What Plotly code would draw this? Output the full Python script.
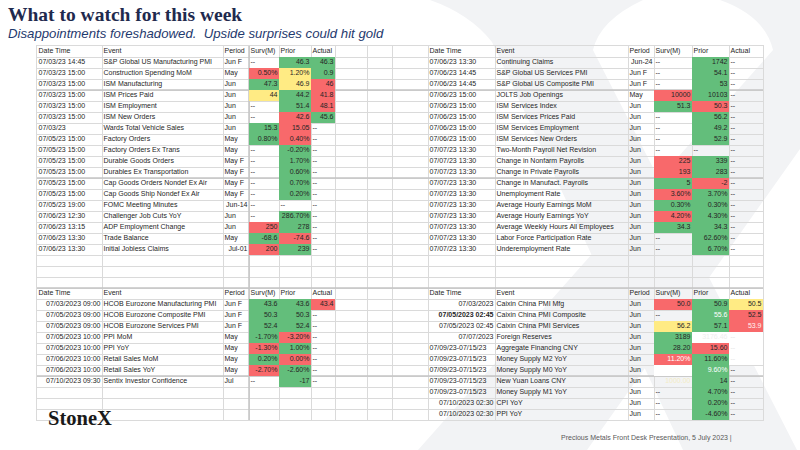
import re

import plotly.graph_objects as go

# ---------------------------------------------------------------- data
HEADERS = ["Date Time", "Event", "Period", "Surv(M)", "Prior", "Actual"]

# US calendar, first half of the week
tl_date = ["07/03/23 14:45"] + ["07/03/23 15:00"] * 5 + ["07/03/23"] + ["07/05/23 15:00"] * 6 + [
    "07/05/23 19:00", "07/06/23 12:30", "07/06/23 13:15", "07/06/23 13:30", "07/06/23 13:30"]
tl_event = ["S&P Global US Manufacturing PMI", "Construction Spending MoM", "ISM Manufacturing",
            "ISM Prices Paid", "ISM Employment", "ISM New Orders", "Wards Total Vehicle Sales",
            "Factory Orders", "Factory Orders Ex Trans", "Durable Goods Orders",
            "Durables Ex Transportation", "Cap Goods Orders Nondef Ex Air",
            "Cap Goods Ship Nondef Ex Air", "FOMC Meeting Minutes", "Challenger Job Cuts YoY",
            "ADP Employment Change", "Trade Balance", "Initial Jobless Claims"]
tl_period = ["Jun F", "May", "Jun", "Jun", "Jun", "Jun", "Jun", "May", "May", "May F", "May F",
             "May F", "May F", "Jun-14", "Jun", "Jun", "May", "Jul-01"]
tl_surv = ["--", "0.50%", "47.3", "44", "--", "--", "15.3", "0.80%", "--", "--", "--", "--", "--",
           "--", "--", "250", "-68.6", "200"]
tl_prior = ["46.3", "1.20%", "46.9", "44.2", "51.4", "42.6", "15.05", "0.40%", "-0.20%", "1.70%",
            "0.60%", "0.70%", "0.20%", "--", "286.70%", "278", "-74.6", "239"]
tl_actual = ["46.3", "0.9", "46", "41.8", "48.1", "45.6"] + ["--"] * 12
tl_surv_fill = ["", "r", "g", "y", "", "", "g", "g", "", "", "", "", "", "", "", "r", "g", "r"]
tl_prior_fill = ["g", "y", "y", "g", "g", "r", "r", "r", "g", "g", "g", "g", "g", "", "g", "g", "r", "g"]
tl_actual_fill = ["g", "g", "r", "r", "r", "g"] + [""] * 12

# US calendar, second half of the week
tr_date = ["07/06/23 13:30", "07/06/23 14:45", "07/06/23 14:45"] + ["07/06/23 15:00"] * 5 + [
    "07/07/23 13:30"] * 10
tr_event = ["Continuing Claims", "S&P Global US Services PMI", "S&P Global US Composite PMI",
            "JOLTS Job Openings", "ISM Services Index", "ISM Services Prices Paid",
            "ISM Services Employment", "ISM Services New Orders", "Two-Month Payroll Net Revision",
            "Change in Nonfarm Payrolls", "Change in Private Payrolls",
            "Change in Manufact. Payrolls", "Unemployment Rate", "Average Hourly Earnings MoM",
            "Average Hourly Earnings YoY", "Average Weekly Hours All Employees",
            "Labor Force Participation Rate", "Underemployment Rate"]
tr_period = ["Jun-24", "Jun F", "Jun F", "May"] + ["Jun"] * 14
tr_surv = ["--", "--", "--", "10000", "51.3", "--", "--", "--", "--", "225", "193", "5", "3.60%",
           "0.30%", "4.20%", "34.3", "--", "--"]
tr_prior = ["1742", "54.1", "53", "10103", "50.3", "56.2", "49.2", "52.9", "--", "339", "283", "-2",
            "3.70%", "0.30%", "4.30%", "34.3", "62.60%", "6.70%"]
tr_actual = ["--"] * 18
tr_surv_fill = ["", "", "", "r", "g", "", "", "", "", "r", "r", "g", "r", "g", "r", "g", "", ""]
tr_prior_fill = ["g", "g", "g", "g", "r", "g", "g", "g", "", "g", "g", "r", "g", "g", "g", "g", "g", "g"]
tr_actual_fill = [""] * 18

# Eurozone
bl_date = ["07/03/2023 09:00", "07/05/2023 09:00", "07/05/2023 09:00", "07/05/2023 10:00",
           "07/05/2023 10:00", "07/06/2023 10:00", "07/06/2023 10:00", "07/10/2023 09:30"]
bl_event = ["HCOB Eurozone Manufacturing PMI", "HCOB Eurozone Composite PMI",
            "HCOB Eurozone Services PMI", "PPI MoM", "PPI YoY", "Retail Sales MoM",
            "Retail Sales YoY", "Sentix Investor Confidence"]
bl_period = ["Jun F", "Jun F", "Jun F", "May", "May", "May", "May", "Jul"]
bl_surv = ["43.6", "50.3", "52.4", "-1.70%", "-1.30%", "0.20%", "-2.70%", "--"]
bl_prior = ["43.6", "50.3", "52.4", "-3.20%", "1.00%", "0.00%", "-2.60%", "-17"]
bl_actual = ["43.4"] + ["--"] * 7
bl_surv_fill = ["g", "g", "g", "g", "r", "g", "r", ""]
bl_prior_fill = ["g", "g", "g", "r", "g", "r", "g", "g"]
bl_actual_fill = ["r"] + [""] * 7

# China
br_date = ["07/03/2023", "<b>07/05/2023 02:45</b>", "07/05/2023 02:45", "07/07/2023"] + [
    "07/09/23-07/15/23"] * 5 + ["07/10/2023 02:30", "07/10/2023 02:30"]
br_event = ["Caixin China PMI Mfg", "Caixin China PMI Composite", "Caixin China PMI Services",
            "Foreign Reserves", "Aggregate Financing CNY", "Money Supply M2 YoY",
            "Money Supply M0 YoY", "New Yuan Loans CNY", "Money Supply M1 YoY", "CPI YoY", "PPI YoY"]
br_period = ["Jun"] * 11
br_surv = ["50.0", "--", "56.2", "3189", "28.20", "11.20%", "", "1000.00", "--", "--", "--"]
br_prior = ["50.9", "55.6", "57.1", "3176.46", "15.60", "11.60%", "9.60%", "14", "4.70%", "0.20%",
            "-4.60%"]
br_actual = ["50.5", "52.5", "53.9"] + ["--"] * 8
br_surv_fill = ["r", "", "y", "g", "g", "r", "w", "", "", "", ""]
br_prior_fill = ["g", "g", "g", "w", "r", "g", "g", "g", "g", "g", "g"]
br_actual_fill = ["y", "r", "r", "w", "w", "w", "", "", "", "", ""]

# ---------------------------------------------------------------- layout
COL_EDGES = [37, 102, 223, 249, 279, 311, 335, 367, 392, 428, 495, 628, 654, 692, 729, 763]
ROW_TOP, ROW_H, N_ROWS = 46, 11, 34
ROW_EDGES = [ROW_TOP + ROW_H * i for i in range(N_ROWS + 1)]
HEAVY_ROWS = [90, 178, 288, 376]
HEAVY_COLS = [249]

GRID = "#dadada"
TEXT = "#262626"
FILLS = {"w": (0, "#ffffff"), "g": (1, "#63be7b"), "r": (2, "#f8696b"), "y": (3, "#ffeb84")}
FONT = "Liberation Sans"
PAD = 1.5

blocks = [
    dict(name="tl", col0=0, head=0, row0=1, date_right=False,
         cols=[tl_date, tl_event, tl_period, tl_surv, tl_prior, tl_actual],
         fills={3: tl_surv_fill, 4: tl_prior_fill, 5: tl_actual_fill}),
    dict(name="tr", col0=9, head=0, row0=1, date_right=False,
         cols=[tr_date, tr_event, tr_period, tr_surv, tr_prior, tr_actual],
         fills={3: tr_surv_fill, 4: tr_prior_fill, 5: tr_actual_fill}),
    dict(name="bl", col0=0, head=22, row0=23, date_right=True,
         cols=[bl_date, bl_event, bl_period, bl_surv, bl_prior, bl_actual],
         fills={3: bl_surv_fill, 4: bl_prior_fill, 5: bl_actual_fill}),
    dict(name="br", col0=9, head=22, row0=23, date_right=True,
         cols=[br_date, br_event, br_period, br_surv, br_prior, br_actual],
         fills={3: br_surv_fill, 4: br_prior_fill, 5: br_actual_fill}),
]

# text colours that differ from the default (block, row, column)
TEXT_OVERRIDE = {
    ("br", 1, 4): "#ffffff", ("br", 2, 5): "#fff2f2", ("br", 5, 3): "#ffffff",
    ("br", 6, 4): "#ffffff", ("br", 3, 4): "#eeeeee", ("br", 7, 3): "#f3ecc4",
    ("br", 3, 5): "#e4e4e4", ("br", 4, 5): "#e4e4e4", ("br", 5, 5): "#e4e4e4",
}


def right_aligned(text, col, block):
    plain = re.sub(r"<[^>]+>", "", text)
    if col == 0:
        return block["date_right"] and "-" not in plain
    if col == 2:
        return bool(re.match(r"^[A-Z][a-z]{2}-\d\d$", plain))
    try:
        float(plain.replace("%", ""))
        return True
    except ValueError:
        return False


z = [[None] * (len(COL_EDGES) - 1) for _ in range(N_ROWS)]
texts = {"l": ([], [], [], []), "r": ([], [], [], [])}


def put(text, row, col, side, color=TEXT):
    xs, ys, ts, cs = texts[side]
    xs.append(COL_EDGES[col] + PAD if side == "l" else COL_EDGES[col + 1] - PAD)
    ys.append(ROW_EDGES[row] + ROW_H / 2)
    ts.append(text)
    cs.append(color)


for b in blocks:
    for j, h in enumerate(HEADERS):
        put(h, b["head"], b["col0"] + j, "l")
    for j, column in enumerate(b["cols"]):
        for i, value in enumerate(column):
            row, col = b["row0"] + i, b["col0"] + j
            code = b["fills"].get(j, [""] * len(column))[i]
            if code:
                z[row][col] = FILLS[code][0]
            if value:
                side = "r" if right_aligned(value, j, b) else "l"
                put(value, row, col, side, TEXT_OVERRIDE.get((b["name"], i, j), TEXT))

order = sorted(FILLS.values())
n = len(order)
colorscale = []
for k, (_, c) in enumerate(order):
    colorscale += [[k / n, c], [(k + 1) / n, c]]

fig = go.Figure()
fig.add_trace(go.Heatmap(
    x=COL_EDGES, y=ROW_EDGES, z=z, zmin=-0.5, zmax=n - 0.5, colorscale=colorscale,
    showscale=False, hoverinfo="skip", hoverongaps=False,
))
for side, pos in (("l", "middle right"), ("r", "middle left")):
    xs, ys, ts, cs = texts[side]
    fig.add_trace(go.Scatter(
        x=xs, y=ys, text=ts, mode="text", textposition=pos,
        textfont=dict(family=FONT, size=7, color=cs), hoverinfo="skip", showlegend=False,
    ))

# heavier sheet lines (frozen pane / page breaks)
for y in HEAVY_ROWS:
    fig.add_shape(type="line", x0=COL_EDGES[0], x1=COL_EDGES[-1], y0=y, y1=y, layer="between",
                  line=dict(color="#c4c4c4", width=1.5))
for x in HEAVY_COLS:
    fig.add_shape(type="line", x0=x, x1=x, y0=ROW_EDGES[0], y1=ROW_EDGES[-1], layer="between",
                  line=dict(color="#c4c4c4", width=1.5))

# faint StoneX "X" watermark, drawn in page pixels
W, H = 800, 450
ML, MR, MT, MB = COL_EDGES[0], W - COL_EDGES[-1], ROW_EDGES[0], H - ROW_EDGES[-1]


def pp(x, y):
    return f"{(x - ML) / (W - ML - MR):.4f},{(H - MB - y) / (H - MT - MB):.4f}"


arm_a = (f"M {pp(430, 0)} L {pp(643, 0)} Q {pp(600, 20)} {pp(593, 50)} L {pp(797, 450)} "
         f"L {pp(683, 450)} L {pp(492, 42)} Q {pp(470, 14)} {pp(430, 0)} Z")
arm_b = (f"M {pp(720, 0)} L {pp(880, 0)} L {pp(870, 50)} L {pp(587, 450)} L {pp(418, 450)} "
         f"L {pp(773, 50)} Q {pp(765, 16)} {pp(720, 0)} Z")
for path in (arm_a, arm_b):
    fig.add_shape(type="path", path=path, xref="paper", yref="paper", layer="below",
                  fillcolor="#f2f3f5", line=dict(width=0))


def ax(px_x, px_y):
    return (px_x - ML) / (W - ML - MR), (H - MB - px_y) / (H - MT - MB)


notes = [
    ("<b>What to watch for this week</b>", 6, 15, "left",
     dict(family="Liberation Serif", size=19.5, color="#1f2a4e")),
    ("<i>Disappointments foreshadowed.  Upside surprises could hit gold</i>", 6, 33, "left",
     dict(family=FONT, size=13.2, color="#1f3a6e")),
    ("Precious Metals Front Desk Presentation, 5 July 2023 |", 734, 438, "right",
     dict(family=FONT, size=7, color="#595959")),
    ("<b>StoneX</b>", 46, 418, "left", dict(family="Liberation Serif", size=20.5, color="#1a1a1a")),
]
for text, px_x, px_y, anchor, font in notes:
    x, y = ax(px_x, px_y)
    fig.add_annotation(text=text, x=x, y=y, xref="paper", yref="paper", xanchor=anchor,
                       yanchor="middle", showarrow=False, font=font)

fig.update_xaxes(range=[COL_EDGES[0], COL_EDGES[-1]], tickvals=COL_EDGES, showticklabels=False,
                 ticks="", showgrid=True, gridcolor=GRID, gridwidth=1, zeroline=False,
                 showline=True, linecolor=GRID, linewidth=1, mirror=True, fixedrange=True)
fig.update_yaxes(range=[ROW_EDGES[-1], ROW_EDGES[0]], tickvals=ROW_EDGES, showticklabels=False,
                 ticks="", showgrid=True, gridcolor=GRID, gridwidth=1, zeroline=False,
                 showline=True, linecolor=GRID, linewidth=1, mirror=True, fixedrange=True)
fig.update_layout(
    width=W, height=H, autosize=False,
    margin=dict(l=ML, r=MR, t=MT, b=MB, pad=0),
    paper_bgcolor="#ffffff", plot_bgcolor="rgba(0,0,0,0)",
    showlegend=False,
)
# the page is photographed at exactly the figure size: drop the browser's body margin
fig.write_html("out.html", config={"displayModeBar": False},
               post_script="document.body.style.margin='0';document.body.style.overflow='hidden';")
